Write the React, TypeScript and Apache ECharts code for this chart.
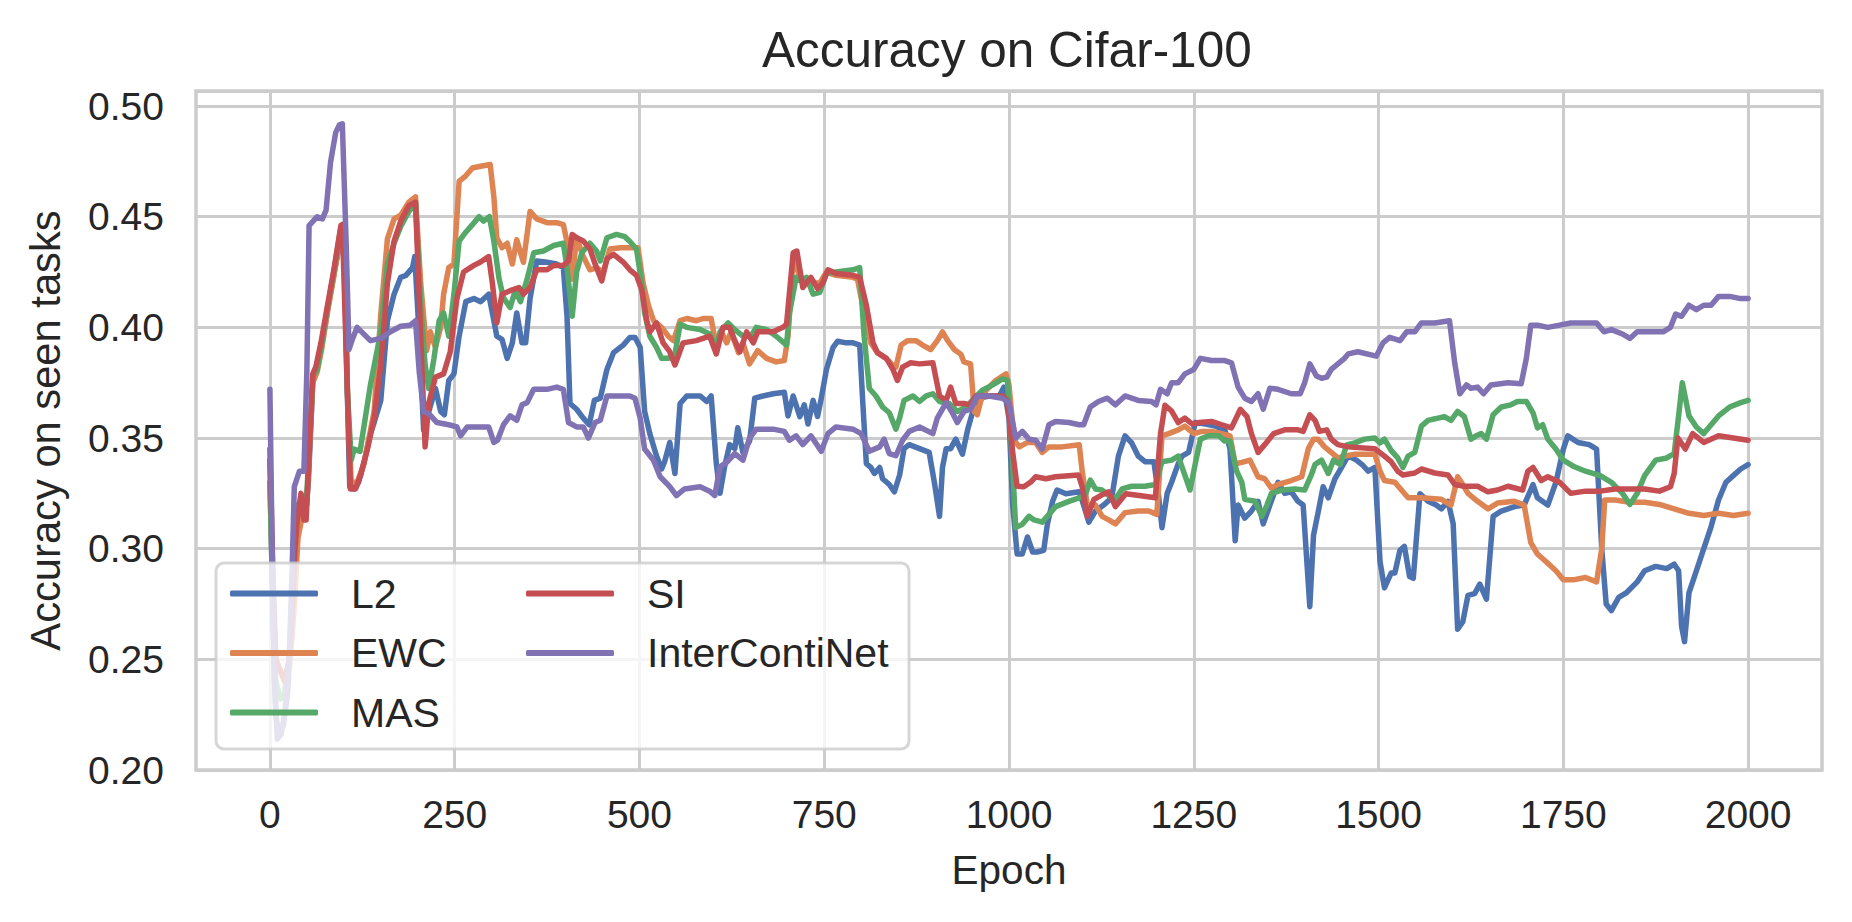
import React, { useEffect, useRef } from "react";
import * as echarts from "echarts";

const FONT = "'Liberation Sans', Arial, sans-serif";
const TEXT = "#262626";
const GRIDC = "#cccccc";

const xTicks = [0, 250, 500, 750, 1000, 1250, 1500, 1750, 2000];
const seriesNames = ["L2", "EWC", "MAS", "SI", "InterContiNet"];
const seriesColors = ["#4C72B0", "#DD8452", "#55A868", "#C44E52", "#8172B3"];

const L2 = [
  [0,0.34],[4,0.27],[8,0.225],[12,0.215],[18,0.22],[24,0.235],[28,0.26],[32,0.3],[36,0.318],[42,0.322],[48,0.315],[52,0.33],[58,0.375],[64,0.382],[70,0.392],[78,0.408],[87,0.425],[96,0.44],[100,0.443],
  [104,0.38],[108,0.328],[114,0.327],[120,0.33],[128,0.34],[136,0.352],[141,0.357],[150,0.367],[159,0.403],[168,0.415],[177,0.4226],[184,0.4235],[193,0.427],[196,0.432],[202,0.396],[208,0.3537],[215,0.362],[224,0.3724],[231,0.362],[236,0.3605],[242,0.376],[249,0.379],[256,0.396],[265,0.4116],[276,0.413],[285,0.4116],[296,0.415],
  [301,0.4065],[307,0.396],[314,0.3946],[321,0.386],[328,0.393],[334,0.4065],[341,0.393],[346,0.393],[352,0.413],[361,0.43],[375,0.4294],[388,0.4286],[397,0.427],[402,0.405],[406,0.3656],[415,0.363],[424,0.359],[432,0.356],[439,0.367],[447,0.368],[456,0.381],[465,0.3886],[478,0.392],[487,0.3954],[494,0.3954],
  [501,0.391],[507,0.362],[514,0.352],[523,0.342],[530,0.336],[534,0.3393],[541,0.348],[548,0.334],[555,0.3656],[564,0.369],[582,0.369],[591,0.3665],[597,0.369],[604,0.3384],[609,0.325],[615,0.3367],[622,0.347],[629,0.3452],[633,0.3546],[640,0.3435],[649,0.3486],[656,0.368],[667,0.369],[681,0.37],[696,0.3707],
  [701,0.36],[708,0.369],[717,0.3597],[723,0.365],[728,0.3563],[735,0.367],[741,0.3597],[746,0.368],[753,0.381],[762,0.391],[768,0.3937],[780,0.393],[789,0.393],[798,0.392],[802,0.367],[807,0.3384],[813,0.3367],[818,0.334],[825,0.3367],[829,0.3316],[838,0.329],[845,0.3257],[852,0.3333],[858,0.3452],[865,0.347],[879,0.3452],[892,0.3435],[899,0.33],
  [906,0.3146],[910,0.3367],[915,0.3452],[921,0.3452],[928,0.3495],[937,0.3427],[944,0.3537],[951,0.362],[960,0.368],[973,0.369],[987,0.369],[993,0.373],[1000,0.3588],[1005,0.3197],[1011,0.2976],[1018,0.2976],[1025,0.3053],[1032,0.2985],[1038,0.2985],[1047,0.2993],[1052,0.3112],[1059,0.3214],[1065,0.3265],[1077,0.3248],[1095,0.3257],
  [1101,0.3197],[1108,0.312],[1117,0.317],[1128,0.3197],[1139,0.323],[1148,0.3418],[1157,0.351],[1166,0.3478],[1175,0.3418],[1184,0.3393],[1196,0.3393],[1202,0.325],[1207,0.3095],[1214,0.325],[1220,0.33],[1229,0.3384],[1234,0.3418],[1243,0.3435],[1252,0.357],[1266,0.3563],[1279,0.3554],[1292,0.3537],[1299,0.3452],
  [1306,0.3036],[1310,0.3197],[1319,0.3138],[1328,0.317],[1337,0.3214],[1344,0.3112],[1353,0.3197],[1364,0.33],[1373,0.325],[1382,0.3257],[1391,0.3214],[1398,0.3197],[1403,0.2942],[1407,0.2738],[1412,0.306],[1418,0.316],[1425,0.328],[1432,0.323],[1441,0.3316],[1450,0.3367],[1459,0.342],[1470,0.34],[1479,0.3376],[1486,0.335],[1495,0.3367],
  [1502,0.2942],[1508,0.2823],[1517,0.289],[1522,0.289],[1529,0.2993],[1535,0.301],[1542,0.2874],[1547,0.2866],[1556,0.3248],[1567,0.3214],[1578,0.3197],[1585,0.318],[1594,0.3214],[1601,0.3112],[1607,0.2636],[1614,0.267],[1621,0.2789],[1630,0.2797],[1637,0.284],[1646,0.2772],[1655,0.3146],[1666,0.317],[1684,0.319],[1697,0.3197],
  [1709,0.329],[1715,0.323],[1729,0.3197],[1740,0.33],[1750,0.345],[1756,0.351],[1770,0.348],[1785,0.347],[1795,0.345],[1802,0.3],[1808,0.275],[1815,0.272],[1825,0.278],[1835,0.28],[1850,0.285],[1860,0.29],[1875,0.292],[1890,0.291],[1900,0.293],[1906,0.29],[1910,0.265],[1914,0.258],[1920,0.28],[1930,0.29],[1940,0.3],[1950,0.31],[1960,0.322],[1970,0.33],[1980,0.333],[1990,0.336],[2000,0.338]
];

const EWC = [
  [0,0.33],[4,0.28],[8,0.25],[14,0.245],[20,0.24],[26,0.245],[30,0.26],[34,0.28],[38,0.305],[44,0.315],[50,0.32],[58,0.375],[64,0.38],[70,0.39],[78,0.407],[87,0.424],[96,0.443],[100,0.445],
  [105,0.37],[110,0.33],[118,0.33],[127,0.338],[141,0.362],[150,0.406],[159,0.44],[168,0.449],[177,0.4507],[188,0.4566],[197,0.459],[204,0.42],[212,0.3895],[217,0.398],[224,0.391],[231,0.4],[235,0.415],[242,0.427],[249,0.4286],[256,0.466],[265,0.4685],[274,0.472],[285,0.4728],[298,0.4736],
  [303,0.459],[307,0.4405],[314,0.436],[321,0.438],[328,0.4286],[334,0.4396],[343,0.4294],[352,0.4524],[361,0.449],[375,0.4473],[388,0.4473],[397,0.4464],[404,0.4354],[409,0.4218],[415,0.4405],[424,0.432],[433,0.426],[442,0.4269],[451,0.425],[460,0.4354],[474,0.436],[487,0.436],[498,0.436],
  [505,0.42],[512,0.41],[519,0.403],[530,0.4],[539,0.396],[546,0.394],[555,0.403],[564,0.404],[577,0.403],[586,0.404],[597,0.404],[604,0.391],[611,0.398],[618,0.393],[624,0.398],[634,0.3886],[640,0.393],[649,0.3835],[660,0.3895],[672,0.386],[685,0.3844],[696,0.385],
  [701,0.396],[708,0.432],[717,0.4226],[726,0.421],[735,0.42],[744,0.42],[753,0.425],[766,0.4235],[789,0.4226],[795,0.4218],[804,0.4065],[813,0.393],[822,0.3886],[834,0.386],[843,0.3827],[847,0.382],[854,0.392],[863,0.394],[874,0.394],[883,0.392],[894,0.39],
  [903,0.394],[910,0.398],[917,0.394],[926,0.39],[935,0.3878],[939,0.3844],[948,0.3835],[953,0.362],[957,0.3605],[962,0.367],[969,0.3716],[982,0.376],[996,0.379],[1000,0.374],[1007,0.349],[1014,0.346],[1025,0.348],[1036,0.348],[1045,0.3435],[1054,0.346],[1072,0.346],[1095,0.347],
  [1099,0.335],[1106,0.3197],[1117,0.3197],[1126,0.3146],[1135,0.313],[1144,0.3112],[1157,0.3163],[1175,0.317],[1189,0.317],[1200,0.3155],[1207,0.351],[1216,0.352],[1229,0.3537],[1238,0.3554],[1250,0.352],[1261,0.353],[1274,0.353],[1288,0.352],[1299,0.351],
  [1306,0.3384],[1315,0.339],[1326,0.34],[1337,0.3325],[1346,0.3316],[1355,0.3274],[1364,0.329],[1382,0.3308],[1396,0.3325],[1405,0.3452],[1412,0.3495],[1418,0.3495],[1427,0.346],[1436,0.3435],[1445,0.341],[1454,0.3418],[1468,0.3427],[1495,0.3427],
  [1502,0.335],[1508,0.3308],[1522,0.33],[1533,0.3257],[1540,0.323],[1558,0.323],[1585,0.3223],[1598,0.3197],[1607,0.3325],[1612,0.33],[1621,0.325],[1634,0.3214],[1648,0.318],[1661,0.3206],[1684,0.3214],[1697,0.3197],
  [1706,0.3027],[1715,0.2976],[1729,0.2934],[1740,0.29],[1750,0.286],[1765,0.286],[1780,0.287],[1795,0.285],[1802,0.3],[1806,0.322],[1820,0.322],[1840,0.321],[1860,0.321],[1880,0.32],[1900,0.318],[1920,0.316],[1940,0.315],[1960,0.316],[1980,0.315],[2000,0.316]
];

const MAS = [
  [0,0.33],[4,0.275],[8,0.24],[14,0.232],[20,0.235],[26,0.25],[30,0.275],[34,0.305],[38,0.32],[44,0.322],[50,0.325],[58,0.378],[64,0.381],[70,0.392],[78,0.409],[87,0.426],[96,0.445],[100,0.446],
  [105,0.37],[110,0.34],[114,0.345],[122,0.344],[136,0.374],[150,0.398],[159,0.4286],[168,0.438],[177,0.4456],[188,0.4524],[197,0.456],[204,0.41],[210,0.383],[215,0.3724],[222,0.386],[229,0.403],[235,0.4065],[242,0.396],[249,0.415],[256,0.439],[265,0.443],[274,0.4464],[283,0.45],[289,0.448],[297,0.45],
  [303,0.439],[310,0.422],[316,0.4133],[325,0.409],[332,0.4167],[339,0.4116],[348,0.4218],[357,0.4337],[370,0.4345],[384,0.437],[397,0.438],[402,0.427],[409,0.405],[415,0.425],[422,0.4337],[433,0.438],[442,0.4345],[447,0.43],[456,0.4405],[469,0.442],[480,0.441],[487,0.4388],[496,0.4354],
  [503,0.42],[507,0.4065],[514,0.396],[523,0.391],[530,0.386],[539,0.386],[548,0.3878],[555,0.4014],[564,0.4],[582,0.399],[595,0.397],[604,0.391],[609,0.398],[620,0.402],[629,0.399],[640,0.396],[651,0.396],[658,0.4],[672,0.399],[685,0.396],[699,0.392],
  [703,0.4065],[712,0.4226],[719,0.421],[726,0.4226],[735,0.415],[744,0.4158],[753,0.4243],[766,0.425],[789,0.426],[798,0.427],[804,0.396],[811,0.3724],[820,0.369],[829,0.364],[838,0.3614],[847,0.354],[852,0.359],[858,0.367],[870,0.369],[879,0.3665],[888,0.369],[897,0.37],
  [906,0.3665],[919,0.3656],[930,0.362],[942,0.364],[953,0.368],[964,0.3716],[978,0.374],[991,0.3767],[998,0.376],[1005,0.3367],[1009,0.3095],[1018,0.311],[1027,0.3146],[1034,0.313],[1045,0.312],[1054,0.3155],[1063,0.319],[1081,0.3214],[1095,0.323],
  [1103,0.324],[1110,0.331],[1117,0.327],[1126,0.3265],[1135,0.324],[1144,0.3223],[1153,0.327],[1166,0.3282],[1184,0.3282],[1198,0.329],[1207,0.3393],[1220,0.34],[1229,0.3418],[1236,0.335],[1245,0.3265],[1252,0.3384],[1259,0.3495],[1270,0.351],[1284,0.351],[1292,0.3486],[1299,0.3486],
  [1308,0.335],[1315,0.33],[1319,0.3223],[1333,0.3214],[1342,0.3146],[1349,0.3197],[1355,0.325],[1369,0.3265],[1387,0.327],[1400,0.3265],[1409,0.3333],[1414,0.338],[1423,0.34],[1432,0.334],[1439,0.34],[1448,0.338],[1457,0.3469],[1468,0.3478],[1481,0.3495],[1495,0.35],
  [1502,0.3478],[1508,0.3495],[1517,0.3444],[1526,0.341],[1533,0.3367],[1540,0.3418],[1549,0.3435],[1558,0.3554],[1567,0.358],[1578,0.3588],[1589,0.3597],[1598,0.358],[1607,0.362],[1616,0.3597],[1625,0.3495],[1632,0.351],[1639,0.352],[1646,0.3495],[1655,0.3605],[1666,0.364],[1679,0.365],[1688,0.3665],[1700,0.3665],
  [1709,0.3614],[1715,0.3546],[1722,0.356],[1729,0.3495],[1740,0.345],[1750,0.34],[1765,0.337],[1780,0.335],[1800,0.333],[1815,0.33],[1830,0.325],[1840,0.32],[1850,0.325],[1860,0.333],[1875,0.34],[1890,0.341],[1900,0.343],[1906,0.36],[1911,0.375],[1920,0.36],[1930,0.355],[1940,0.352],[1950,0.356],[1960,0.36],[1975,0.364],[1990,0.366],[2000,0.367]
];

const SI = [
  [0,0.345],[4,0.29],[8,0.25],[14,0.245],[20,0.24],[26,0.25],[30,0.27],[34,0.3],[37,0.313],[42,0.325],[46,0.313],[49,0.313],[51,0.328],[58,0.379],[62,0.382],[69,0.393],[78,0.41],[87,0.427],[96,0.446],[98,0.4465],
  [104,0.38],[109,0.327],[116,0.327],[123,0.3335],[132,0.345],[141,0.359],[150,0.383],[159,0.42],[168,0.439],[177,0.448],[188,0.455],[197,0.4566],[204,0.396],[210,0.346],[215,0.366],[224,0.3775],[235,0.379],[244,0.389],[253,0.413],[262,0.425],[276,0.428],[285,0.4295],[296,0.432],
  [301,0.42],[307,0.402],[314,0.415],[328,0.417],[337,0.418],[343,0.415],[352,0.418],[361,0.426],[375,0.426],[384,0.428],[397,0.428],[404,0.43],[409,0.442],[415,0.4405],[424,0.439],[433,0.4355],[440,0.4286],[449,0.421],[456,0.431],[465,0.433],[478,0.4295],[487,0.426],[496,0.4235],
  [503,0.417],[510,0.403],[514,0.398],[523,0.402],[532,0.393],[541,0.389],[548,0.383],[559,0.393],[577,0.394],[595,0.396],[604,0.388],[613,0.4],[622,0.4],[629,0.394],[636,0.389],[645,0.398],[654,0.393],[660,0.398],[681,0.398],[694,0.4],[699,0.4014],
  [708,0.4337],[713,0.4345],[721,0.418],[732,0.4226],[741,0.4175],[748,0.42],[755,0.426],[766,0.4243],[789,0.4235],[798,0.4226],[807,0.41],[816,0.393],[822,0.3886],[834,0.386],[843,0.381],[849,0.376],[856,0.382],[867,0.384],[879,0.3835],[897,0.384],
  [906,0.369],[915,0.367],[921,0.373],[928,0.3656],[939,0.3656],[948,0.365],[955,0.369],[973,0.369],[991,0.369],[998,0.367],[1005,0.3435],[1011,0.3282],[1020,0.328],[1029,0.33],[1036,0.3325],[1050,0.3316],[1063,0.3325],[1094,0.3333],
  [1099,0.328],[1106,0.3146],[1115,0.3223],[1124,0.324],[1135,0.3257],[1144,0.319],[1158,0.3248],[1176,0.324],[1198,0.323],[1205,0.352],[1211,0.3648],[1220,0.3622],[1229,0.357],[1238,0.359],[1248,0.3563],[1257,0.357],[1274,0.3575],[1288,0.356],[1301,0.3546],
  [1313,0.363],[1322,0.3597],[1328,0.352],[1337,0.3435],[1346,0.347],[1358,0.352],[1373,0.3537],[1391,0.3537],[1398,0.353],[1407,0.3605],[1414,0.358],[1420,0.353],[1430,0.3537],[1436,0.3495],[1445,0.347],[1459,0.346],[1495,0.3452],
  [1508,0.3418],[1517,0.3393],[1526,0.335],[1533,0.3333],[1549,0.3342],[1558,0.336],[1576,0.3342],[1594,0.3333],[1603,0.329],[1616,0.3282],[1634,0.3282],[1648,0.3257],[1661,0.3265],[1675,0.3282],[1695,0.3265],
  [1702,0.335],[1709,0.3367],[1720,0.3308],[1729,0.3325],[1745,0.33],[1760,0.325],[1780,0.326],[1800,0.326],[1820,0.327],[1840,0.327],[1860,0.327],[1880,0.326],[1895,0.328],[1900,0.334],[1905,0.35],[1915,0.345],[1925,0.352],[1940,0.348],[1960,0.351],[1980,0.35],[2000,0.349]
];

const InterContiNet = [
  [0,0.372],[3,0.3],[6,0.24],[10,0.214],[15,0.216],[20,0.225],[26,0.25],[30,0.29],[33,0.328],[40,0.335],[46,0.335],[50,0.38],[53,0.446],[64,0.45],[71,0.449],[76,0.453],[82,0.4745],[89,0.488],[94,0.4915],[98,0.492],
  [103,0.44],[107,0.39],[112,0.395],[118,0.4],[136,0.394],[150,0.395],[163,0.398],[177,0.4005],[190,0.401],[197,0.403],[202,0.38],[208,0.362],[215,0.361],[226,0.357],[242,0.356],[253,0.355],[258,0.351],[267,0.355],[280,0.355],[296,0.355],
  [303,0.348],[308,0.349],[316,0.356],[325,0.36],[334,0.358],[341,0.365],[348,0.366],[357,0.372],[375,0.372],[388,0.373],[397,0.372],[404,0.357],[415,0.355],[424,0.355],[431,0.35],[440,0.357],[447,0.358],[456,0.369],[465,0.369],[487,0.369],[494,0.368],
  [501,0.359],[507,0.345],[519,0.34],[528,0.3325],[541,0.328],[550,0.324],[561,0.327],[582,0.328],[595,0.326],[602,0.324],[609,0.337],[618,0.339],[629,0.343],[640,0.34],[649,0.35],[658,0.354],[681,0.354],[696,0.353],
  [703,0.349],[712,0.351],[721,0.347],[732,0.351],[746,0.344],[755,0.352],[766,0.355],[789,0.354],[800,0.352],[811,0.344],[825,0.346],[831,0.3495],[838,0.343],[847,0.342],[856,0.349],[865,0.353],[879,0.355],[897,0.352],
  [903,0.359],[915,0.366],[924,0.361],[930,0.357],[939,0.362],[948,0.363],[957,0.369],[973,0.369],[991,0.368],[1000,0.366],[1009,0.35],[1018,0.353],[1027,0.3495],[1036,0.349],[1045,0.345],[1054,0.356],[1063,0.3575],[1081,0.357],[1095,0.356],
  [1101,0.356],[1110,0.364],[1121,0.3665],[1133,0.368],[1144,0.365],[1157,0.369],[1175,0.367],[1193,0.3665],[1199,0.365],[1205,0.372],[1214,0.37],[1220,0.375],[1229,0.375],[1238,0.379],[1250,0.381],[1259,0.386],[1274,0.385],[1292,0.385],[1301,0.384],
  [1310,0.373],[1319,0.368],[1328,0.3665],[1337,0.37],[1344,0.363],[1353,0.3725],[1364,0.372],[1382,0.37],[1394,0.37],[1400,0.375],[1407,0.3835],[1416,0.378],[1423,0.377],[1430,0.3775],[1436,0.381],[1445,0.3835],[1454,0.386],[1459,0.388],[1472,0.389],[1497,0.387],
  [1506,0.393],[1515,0.3955],[1529,0.394],[1538,0.398],[1549,0.398],[1558,0.402],[1576,0.402],[1596,0.403],[1603,0.384],[1610,0.37],[1619,0.374],[1625,0.3725],[1634,0.373],[1642,0.37],[1652,0.374],[1675,0.375],[1693,0.3745],
  [1700,0.386],[1706,0.401],[1715,0.401],[1729,0.4],[1745,0.401],[1760,0.402],[1780,0.402],[1795,0.402],[1805,0.398],[1815,0.399],[1830,0.397],[1840,0.395],[1850,0.398],[1870,0.398],[1885,0.398],[1895,0.4],[1902,0.406],[1910,0.405],[1920,0.41],[1930,0.408],[1940,0.41],[1950,0.41],[1960,0.414],[1975,0.414],[1990,0.413],[2000,0.413]
];

const seriesData = [L2, EWC, MAS, SI, InterContiNet];

export default function App() {
  const ref = useRef<HTMLDivElement>(null);

  useEffect(() => {
    const chart = echarts.init(ref.current as HTMLDivElement, null, { renderer: "svg" });
    const legendText = { fontFamily: FONT, fontSize: 41, color: TEXT, lineHeight: 41, padding: [0, 0, 0, 28] };
    const option = {
      animation: false,
      backgroundColor: "#ffffff",
      textStyle: { fontFamily: FONT },
      title: {
        text: "Accuracy on Cifar-100",
        left: 762,
        top: 24,
        padding: 0,
        textStyle: { fontFamily: FONT, fontSize: 49.5, fontWeight: "normal", color: TEXT }
      },
      grid: {
        left: 196,
        top: 91,
        width: 1626,
        height: 679,
        show: true,
        borderColor: GRIDC,
        borderWidth: 3.5,
        backgroundColor: "#ffffff",
        containLabel: false
      },
      xAxis: {
        type: "value",
        min: -100,
        max: 2100,
        name: "Epoch",
        nameLocation: "middle",
        nameGap: 79,
        nameTextStyle: { fontFamily: FONT, fontSize: 40.5, color: TEXT },
        axisLine: { show: false },
        axisTick: { show: false, customValues: xTicks },
        axisLabel: {
          customValues: xTicks,
          fontFamily: FONT,
          fontSize: 39,
          color: TEXT,
          margin: 25,
          formatter: (v: number) => String(v)
        },
        splitLine: { show: true, lineStyle: { color: GRIDC, width: 3 } }
      },
      yAxis: {
        type: "value",
        min: 0.2,
        max: 0.5068,
        interval: 0.05,
        name: "Accuracy on seen tasks",
        nameLocation: "middle",
        nameGap: 130,
        nameRotate: 90,
        nameTextStyle: { fontFamily: FONT, fontSize: 41.7, color: TEXT },
        axisLine: { show: false },
        axisTick: { show: false },
        axisLabel: {
          fontFamily: FONT,
          fontSize: 39,
          color: TEXT,
          margin: 32,
          showMaxLabel: false,
          formatter: (v: number) => v.toFixed(2)
        },
        splitLine: { show: true, lineStyle: { color: GRIDC, width: 3 } }
      },
      legend: [
        {
          data: seriesNames.slice(0, 3),
          orient: "vertical",
          left: 230,
          top: 573,
          padding: 0,
          itemGap: 18.5,
          itemWidth: 88,
          itemHeight: 6,
          icon: "roundRect",
          z: 6,
          selectedMode: false,
          textStyle: legendText
        },
        {
          data: seriesNames.slice(3),
          orient: "vertical",
          left: 526,
          top: 573,
          padding: 0,
          itemGap: 18.5,
          itemWidth: 88,
          itemHeight: 6,
          icon: "roundRect",
          z: 6,
          selectedMode: false,
          textStyle: legendText
        }
      ],
      graphic: [
        {
          type: "rect",
          z: 5,
          silent: true,
          shape: { x: 216, y: 563, width: 693, height: 186, r: 8 },
          style: { fill: "rgba(255,255,255,0.8)", stroke: "rgba(204,204,204,0.8)", lineWidth: 3 }
        }
      ],
      series: seriesNames.map((name, i) => ({
        name,
        type: "line",
        data: seriesData[i],
        showSymbol: false,
        symbol: "none",
        smooth: false,
        color: seriesColors[i],
        z: 2 + i * 0.1,
        lineStyle: { width: 5.5, color: seriesColors[i], cap: "round", join: "round" },
        emphasis: { disabled: true }
      }))
    };
    chart.setOption(option as any);
    return () => chart.dispose();
  }, []);

  return (
    <div
      ref={ref}
      style={{ position: "fixed", left: 0, top: 0, width: 1852, height: 922, background: "#ffffff" }}
    />
  );
}
